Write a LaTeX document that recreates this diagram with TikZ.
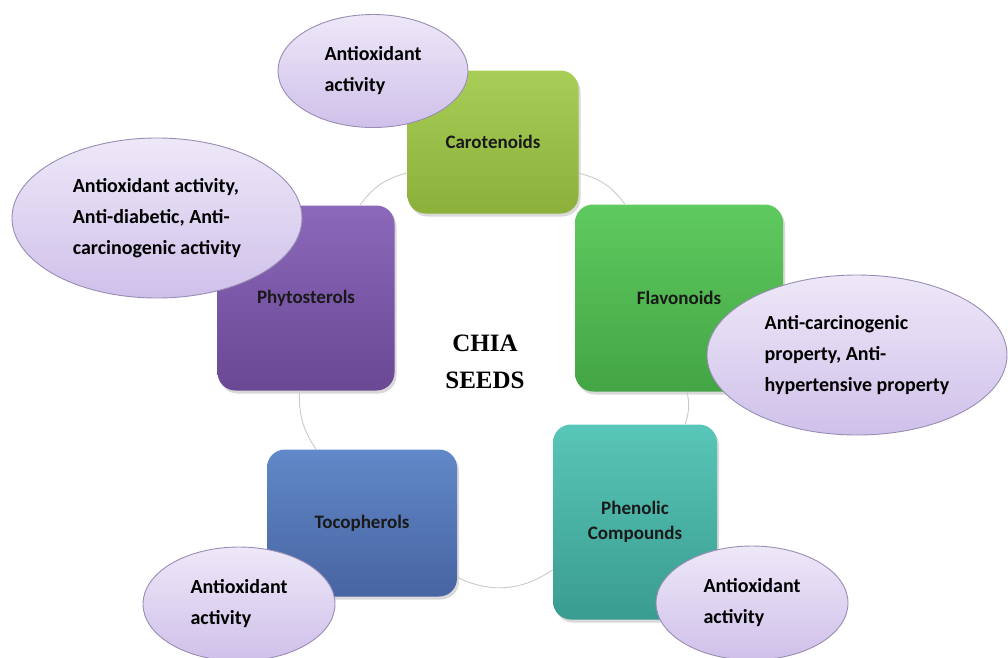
\documentclass[tikz,border=0pt]{standalone}
\usepackage{fontspec}
\newfontfamily\labelfont{Carlito}
\newfontfamily\titlefont{Liberation Serif}
\usetikzlibrary{shapes.geometric,shadows}
\definecolor{carotop}{HTML}{A8CE58}
\definecolor{carobot}{HTML}{8CB039}
\definecolor{flavtop}{HTML}{5FCA5F}
\definecolor{flavbot}{HTML}{43A544}
\definecolor{phentop}{HTML}{58C6B8}
\definecolor{phenbot}{HTML}{3A9C90}
\definecolor{tocotop}{HTML}{6188C8}
\definecolor{tocobot}{HTML}{4864A2}
\definecolor{phyttop}{HTML}{8C68BA}
\definecolor{phytbot}{HTML}{6A4894}
\definecolor{elltop}{HTML}{EEE8F8}
\definecolor{ellbot}{HTML}{CFC0EA}
\definecolor{elldraw}{HTML}{988DB4}
\definecolor{ringcol}{HTML}{C9CCC4}
\begin{document}
\begin{tikzpicture}[x=1pt, y=-1pt,
  box/.style = {rounded corners=18pt, inner sep=0pt, align=center,
    font=\labelfont\bfseries\fontsize{19}{25}\selectfont, text=black!90,
    drop shadow={opacity=0.3, shadow xshift=2pt, shadow yshift=-3pt}},
  ell/.style = {ellipse, draw=elldraw, line width=0.9pt, inner sep=0pt,
    top color=elltop, bottom color=ellbot, align=left,
    font=\labelfont\bfseries\fontsize{20}{31}\selectfont},
  ring/.style = {draw=ringcol, line width=0.9pt}]
\useasboundingbox (0,0) rectangle (1008,657);

% centre
\node[font=\titlefont\bfseries\fontsize{25}{37}\selectfont, align=center] (chia) at (485,362) {CHIA\\SEEDS};

% compound boxes
\node[box, top color=carotop, bottom color=carobot, minimum width=171pt, minimum height=143pt] (caro) at (493,142) {Carotenoids};
\node[box, top color=flavtop, bottom color=flavbot, minimum width=208pt, minimum height=187pt] (flav) at (679,298) {Flavonoids};
\node[box, top color=phentop, bottom color=phenbot, minimum width=164pt, minimum height=195pt] (phen) at (635,522) {Phenolic\\Compounds};
\node[box, top color=tocotop, bottom color=tocobot, minimum width=190pt, minimum height=147pt] (toco) at (362,523) {Tocopherols};
\node[box, top color=phyttop, bottom color=phytbot, minimum width=177pt, minimum height=185pt] (phyt) at (306,298) {Phytosterols};

% ring
\draw[ring] (caro) to[bend left=20] (flav);
\draw[ring] (flav) to[bend left=16] (phen);
\draw[ring] (phen) to[bend left=30] (toco);
\draw[ring] (toco) to[bend left=18] (phyt);
\draw[ring] (phyt) to[bend left=20] (caro);

% activities
\node[ell, minimum width=190pt, minimum height=113pt] (caroact) at (373,71) {Antioxidant\\activity};
\node[ell, minimum width=290pt, minimum height=160pt] (phytact) at (157,218) {Antioxidant activity,\\Anti-diabetic, Anti-\\carcinogenic activity};
\node[ell, minimum width=300pt, minimum height=160pt] (flavact) at (857,355) {Anti-carcinogenic\\property, Anti-\\hypertensive property};
\node[ell, minimum width=192pt, minimum height=114pt] (tocoact) at (239,604) {Antioxidant\\activity};
\node[ell, minimum width=192pt, minimum height=114pt] (phenact) at (752,603) {Antioxidant\\activity};
\end{tikzpicture}
\end{document}
